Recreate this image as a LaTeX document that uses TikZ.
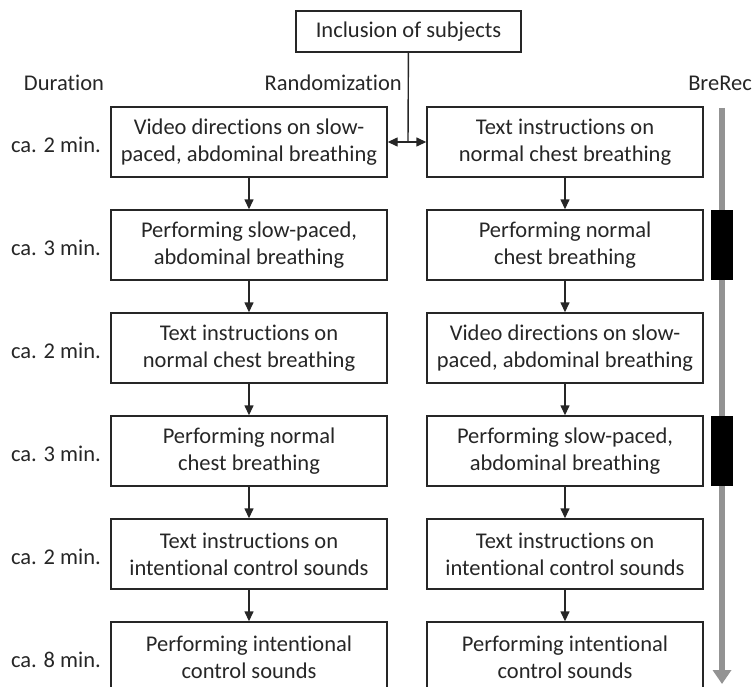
\documentclass[tikz,border=0pt]{standalone}
\usepackage{fontspec}
\setmainfont{Carlito}[Ligatures=NoCommon]
\usetikzlibrary{arrows.meta,positioning}
\usepackage{xcolor}

\begin{document}
\begin{tikzpicture}[
    x=1pt, y=-1pt,
    font=\fontsize{22.5}{27}\selectfont,
    stepbox/.style={draw=black!85, line width=1.4pt, minimum width=276pt, minimum height=70pt, align=center, text=black!85, inner sep=0pt},
    lbl/.style={text=black!85, inner sep=0pt},
    flow/.style={line width=1.4pt, black!85, -{Triangle[width=9pt,length=10pt]}},
    recbar/.style={fill=black, draw=none, minimum width=22pt, minimum height=70pt, inner sep=0pt}
]
    \useasboundingbox (0,0) rectangle (754,687);

    % Headers
    \node[stepbox, minimum width=225pt, minimum height=41pt] (incl) at (408.5,31.5) {Inclusion of subjects};
    \node[lbl] (hdur) at (64,83) {Duration};
    \node[lbl, anchor=east] (hrand) at (402,83) {Randomization};
    \node[lbl] (hbre) at (720,83) {BreRec};

    % Durations
    \node[lbl, anchor=east] (d1) at (101,145) {ca. 2 min.};
    \node[lbl, anchor=east] (d2) at (101,248) {ca. 3 min.};
    \node[lbl, anchor=east] (d3) at (101,351) {ca. 2 min.};
    \node[lbl, anchor=east] (d4) at (101,454) {ca. 3 min.};
    \node[lbl, anchor=east] (d5) at (101,557) {ca. 2 min.};
    \node[lbl, anchor=east] (d6) at (101,660) {ca. 8 min.};

    % Left arm
    \node[stepbox] (l1) at (249,142) {Video directions on slow-\\paced, abdominal breathing};
    \node[stepbox] (l2) at (249,245) {Performing slow-paced,\\abdominal breathing};
    \node[stepbox] (l3) at (249,348) {Text instructions on\\normal chest breathing};
    \node[stepbox] (l4) at (249,451) {Performing normal\\chest breathing};
    \node[stepbox] (l5) at (249,554) {Text instructions on\\intentional control sounds};
    \node[stepbox] (l6) at (249,657) {Performing intentional\\control sounds};

    % Right arm
    \node[stepbox] (r1) at (565,142) {Text instructions on\\normal chest breathing};
    \node[stepbox] (r2) at (565,245) {Performing normal\\chest breathing};
    \node[stepbox] (r3) at (565,348) {Video directions on slow-\\paced, abdominal breathing};
    \node[stepbox] (r4) at (565,451) {Performing slow-paced,\\abdominal breathing};
    \node[stepbox] (r5) at (565,554) {Text instructions on\\intentional control sounds};
    \node[stepbox] (r6) at (565,657) {Performing intentional\\control sounds};

    % Randomization split
    \coordinate (split) at (408,142);
    \draw[line width=1.4pt, black!85] (incl) -- (split);
    \draw[flow] (split) -- (l1);
    \draw[flow] (split) -- (r1);

    \draw[flow] (l1) -- (l2);
    \draw[flow] (l2) -- (l3);
    \draw[flow] (l3) -- (l4);
    \draw[flow] (l4) -- (l5);
    \draw[flow] (l5) -- (l6);

    \draw[flow] (r1) -- (r2);
    \draw[flow] (r2) -- (r3);
    \draw[flow] (r3) -- (r4);
    \draw[flow] (r4) -- (r5);
    \draw[flow] (r5) -- (r6);

    % Recording timeline
    \coordinate (bstart) at (722,108);
    \coordinate (bend) at (722,684);
    \draw[line width=6pt, gray!85, -{Triangle[width=18pt,length=14pt]}] (bstart) -- (bend);
    \node[recbar] (rec1) at (722,245) {};
    \node[recbar] (rec2) at (722,451) {};
\end{tikzpicture}
\end{document}
